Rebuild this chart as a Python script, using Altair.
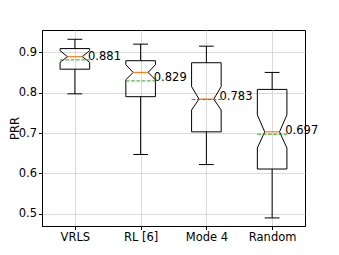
import altair as alt
import pandas as pd

cats = ["VRLS", "RL [6]", "Mode 4", "Random"]
whislo = [0.797, 0.647, 0.622, 0.490]
q1 = [0.858, 0.790, 0.703, 0.611]
cilo = [0.875, 0.832, 0.757, 0.663]
med = [0.889, 0.850, 0.784, 0.703]
cihi = [0.904, 0.869, 0.815, 0.745]
q3 = [0.909, 0.879, 0.874, 0.808]
whishi = [0.932, 0.920, 0.915, 0.850]
means = [0.881, 0.829, 0.783, 0.697]

W = 0.45  # box width in category units

stats = pd.DataFrame({
    "name": cats, "pos": list(range(1, len(cats) + 1)),
    "whislo": whislo, "q1": q1, "cilo": cilo, "med": med,
    "cihi": cihi, "q3": q3, "whishi": whishi, "mean": means,
})
stats["bl"] = stats["pos"] - W / 2
stats["br"] = stats["pos"] + W / 2
stats["nl"] = stats["pos"] - W / 4
stats["nr"] = stats["pos"] + W / 4
stats["label"] = stats["mean"].map(lambda v: f"{v:.3f}")
stats["tx"] = stats["pos"] + 0.2

# notched outline vertices (as matplotlib builds them)
rows = []
for _, r in stats.iterrows():
    xs = [r["bl"], r["br"], r["br"], r["nr"], r["br"], r["br"], r["bl"], r["bl"], r["nl"], r["bl"], r["bl"]]
    ys = [r["q1"], r["q1"], r["cilo"], r["med"], r["cihi"], r["q3"], r["q3"], r["cihi"], r["med"], r["cilo"], r["q1"]]
    for i, (x, y) in enumerate(zip(xs, ys)):
        rows.append({"name": r["name"], "i": i, "x": x, "y": y})
outline = pd.DataFrame(rows)

label_expr = "[" + ",".join(f"'{c}'" for c in cats) + "][datum.value - 1]"
xscale = alt.Scale(domain=[0.5, 4.5], nice=False, zero=False)
yscale = alt.Scale(domain=[0.47, 0.955], nice=False, zero=False)
xaxis = alt.Axis(values=[1, 2, 3, 4], labelExpr=label_expr, title=None, grid=True)
yaxis = alt.Axis(values=[0.5, 0.6, 0.7, 0.8, 0.9], format=".1f", title="PRR", grid=True,
                 titleX=-24, titleBaseline="alphabetic")

base = alt.Chart(stats)

boxes = alt.Chart(outline).mark_line(color="black", strokeWidth=1).encode(
    x=alt.X("x:Q", scale=xscale, axis=xaxis),
    y=alt.Y("y:Q", scale=yscale, axis=yaxis),
    detail="name:N",
    order="i:Q",
)

whisk_hi = base.mark_rule(color="black", strokeWidth=1).encode(
    x="pos:Q", y="q3:Q", y2="whishi:Q")
whisk_lo = base.mark_rule(color="black", strokeWidth=1).encode(
    x="pos:Q", y="q1:Q", y2="whislo:Q")
cap_hi = base.mark_rule(color="black", strokeWidth=1).encode(
    x="nl:Q", x2="nr:Q", y="whishi:Q")
cap_lo = base.mark_rule(color="black", strokeWidth=1).encode(
    x="nl:Q", x2="nr:Q", y="whislo:Q")
median = base.mark_rule(color="#ff7f0e", strokeWidth=1.2).encode(
    x="nl:Q", x2="nr:Q", y="med:Q")
mean = base.mark_rule(color="#2ca02c", strokeWidth=1, strokeDash=[3.7, 1.6]).encode(
    x="bl:Q", x2="br:Q", y="mean:Q")
text = base.mark_text(align="left", baseline="alphabetic", fontSize=11.5,
                      font="DejaVu Sans", color="black").encode(
    x="tx:Q", y="mean:Q", text="label:N")

chart = alt.layer(boxes, whisk_hi, whisk_lo, cap_hi, cap_lo, median, mean, text).properties(
    width=263, height=196,
    autosize=alt.AutoSizeParams(type="none"),
    padding={"left": 34, "top": 22, "right": 20, "bottom": 30},
).configure_view(
    stroke="black", strokeWidth=1
).configure_axis(
    labelFont="DejaVu Sans", labelFontSize=11.5, labelColor="black",
    titleFont="DejaVu Sans", titleFontSize=11.5, titleFontWeight="normal", titleColor="black",
    domainColor="black", tickColor="black", tickSize=3.5, labelPadding=2,
    gridColor="#d0d0d0", gridWidth=0.8,
)

chart.save("out.html", embed_options={"renderer": "svg", "actions": False})
